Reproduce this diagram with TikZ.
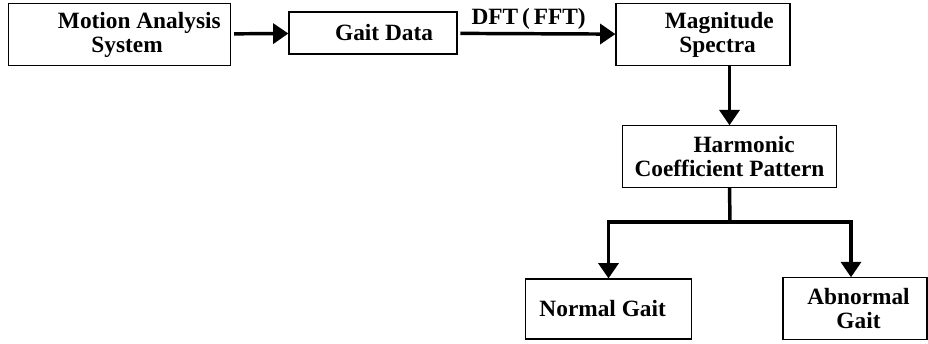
\documentclass[tikz,border=0pt]{standalone}
\usepackage{fontspec}
\setmainfont{Liberation Serif}
\usetikzlibrary{arrows.meta,calc}

\begin{document}
\begin{tikzpicture}[x=0.75pt,y=-0.75pt,every node/.style={font=\fontsize{17.5}{18}\selectfont\bfseries}]
\tikzstyle{blk}=[draw,line width=0.9pt,fill=white,align=center,inner sep=0pt]
\tikzstyle{flow}=[-{Triangle[length=11.5pt,width=15pt]},line width=2.6pt]
\useasboundingbox (0,0) rectangle (928,343);
\node[blk,minimum width=167pt,minimum height=46pt] (motion) at (119.5,34.5) {\hspace*{1.7em}Motion Analysis\\\hspace*{0.65em}System};
\node[blk,minimum width=126pt,minimum height=31.5pt] (gait) at (373,33) {\hspace*{0.95em}Gait Data};
\node[blk,minimum width=130.5pt,minimum height=46pt] (mag) at (703,34.5) {\hspace*{1.4em}Magnitude\\\hspace*{1.25em}Spectra};
\node[blk,minimum width=160pt,minimum height=46pt] (harm) at (729.5,156.5) {\hspace*{1.25em}Harmonic\\Coefficient Pattern};
\node[blk,minimum width=125pt,minimum height=45pt] (normal) at (608.5,309) {Normal Gait\hspace*{0.5em}};
\node[blk,minimum width=108pt,minimum height=46pt] (abnormal) at (855,308.5) {\hspace*{0.3em}Abnormal\\\hspace*{0.3em}Gait};
\coordinate (fork) at (730,222);
% arrows
\draw[flow,shorten <=2pt] (motion) -- (gait);
\draw[flow,shorten <=2pt] (gait) -- node[above,pos=0.45,inner sep=2pt] (dft) {DFT\,(\,FFT)} (mag);
\draw[flow] (mag.south -| harm.north) -- (harm.north);
\draw[line width=2.6pt] (harm.south) -- (fork);
\draw[flow] (fork) -| (normal.north);
\draw[flow] (fork) -| ([xshift=-3pt]abnormal.north);
\end{tikzpicture}
\end{document}
